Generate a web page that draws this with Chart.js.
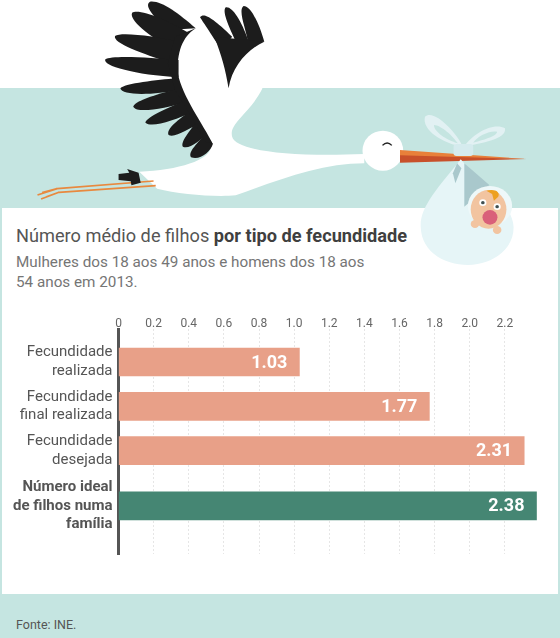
<!DOCTYPE html>
<html lang="pt">
<head>
<meta charset="utf-8">
<title>Número médio de filhos por tipo de fecundidade</title>
<script src="https://cdn.jsdelivr.net/npm/chart.js@4/dist/chart.umd.min.js"></script>
<style>
  html, body { margin: 0; padding: 0; background: #fff; overflow: hidden; }
  #page { position: relative; width: 560px; height: 638px; overflow: hidden; font-family: Roboto, sans-serif; }
  .teal { position: absolute; background: #c5e5e1; }
  #art { position: absolute; left: 0; top: 0; }
  #title { position: absolute; left: 16px; top: 224px; font-size: 18.2px; line-height: 24px; color: #555; white-space: nowrap; }
  #title b { color: #3f3f3f; font-weight: 700; }
  #subtitle { position: absolute; left: 16px; top: 252px; font-size: 15.25px; line-height: 20px; color: #757575; white-space: nowrap; }
  #source { position: absolute; left: 16px; top: 617px; font-size: 12.5px; line-height: 16px; color: #555; }
  #wrap { position: absolute; left: 0; top: 300px; width: 560px; height: 270px; }
</style>
</head>
<body>
<div id="page">
  <div class="teal" style="left:0;top:88px;width:560px;height:120px"></div>
  <div class="teal" style="left:0;top:208px;width:2px;height:386px"></div>
  <div class="teal" style="left:558px;top:208px;width:2px;height:386px"></div>
  <div class="teal" style="left:0;top:594px;width:560px;height:44px"></div>

  <svg id="art" width="560" height="300" viewBox="0 0 560 300">
    <g transform="scale(0.35714,0.33333)">
      <!-- body and neck -->
      <path fill="#fff" d="M500 200 L735 265 C700 340 640 370 650 410 C660 450 800 472 1020 462 L1020 490 C900 490 780 540 660 586 C600 592 500 582 440 566 L390 515 C500 510 590 480 590 440 L500 260 Z"/>
      <ellipse cx="1072" cy="452" rx="57" ry="60" fill="#fff"/>
      <path d="M1071 436 Q1084 422 1097 436" fill="none" stroke="#222" stroke-width="4"/>
      <path fill="#e8803a" d="M1120 450 L1475 477 L1120 470 Z"/>
      <path fill="#c8502a" d="M1120 466 L1475 477 L1120 488 Z"/>
      <!-- left wing -->
      <g fill="#1c1c1c">
        <path d="M548 85 C500 40 450 0 420 5 C405 15 420 40 470 90 Z"/>
        <path d="M530 100 C470 60 390 25 370 38 C360 60 420 110 480 145 Z"/>
        <path d="M500 125 C440 110 340 95 322 108 C315 130 400 160 480 190 Z"/>
        <path d="M500 180 C420 172 310 165 295 178 C285 198 380 225 500 232 Z"/>
        <path d="M495 235 C440 240 350 250 337 265 C340 288 430 285 505 270 Z"/>
        <path d="M505 265 C450 280 380 300 373 320 C385 342 460 325 525 305 Z"/>
        <path d="M520 300 C480 320 410 350 407 368 C425 385 490 360 540 335 Z"/>
        <path d="M535 330 C500 360 465 385 472 405 C490 415 530 385 560 370 Z"/>
        <path d="M550 365 C530 395 505 425 512 440 C530 450 560 420 578 405 Z"/>
        <path d="M575 400 C555 430 525 455 535 472 C560 482 590 455 596 432 Z"/>
      </g>
      <path fill="#1c1c1c" d="M548 85 L490 110 L470 190 L490 270 L530 340 L575 425 L596 432 C570 375 510 290 498 220 C495 160 510 110 548 85 Z"/>
      <!-- right wing -->
      <g fill="#1c1c1c">
        <path d="M620 150 C590 100 565 60 560 52 C570 38 590 48 650 110 Z"/>
        <path d="M665 135 C645 90 620 35 632 22 C650 18 675 60 695 120 Z"/>
        <path d="M695 130 C690 90 665 30 682 18 C705 18 728 80 740 125 Z"/>
      </g>
      <path fill="#1c1c1c" d="M600 110 L740 125 C690 150 650 200 640 265 C632 210 620 165 600 110 Z"/>
      <!-- legs and tail -->
      <path d="M430 543 L160 566 L105 585 M160 566 L118 578" fill="none" stroke="#e8893f" stroke-width="5"/>
      <path d="M436 557 L165 577 L115 597 M165 577 L130 590" fill="none" stroke="#e8893f" stroke-width="5"/>
      <path fill="#1c1c1c" d="M332 522 L362 518 L356 507 L388 518 L394 548 L368 556 L366 544 L332 540 Z"/>
      <!-- bundle -->
      <path fill="#e6f5f7" d="M1290 478 C1230 560 1175 620 1178 680 C1180 760 1250 795 1310 795 C1390 792 1440 740 1438 680 C1435 610 1340 540 1290 478 Z"/>
      <path fill="#e2f1f3" fill-rule="evenodd" d="M1296 440 C1240 430 1180 390 1190 350 C1215 325 1280 400 1296 440 Z M1300 440 C1340 430 1420 420 1414 385 C1380 365 1320 405 1300 440 Z"/>
      <path fill="#c5e5e1" d="M1282 430 C1250 420 1215 395 1215 375 C1235 375 1270 410 1282 430 Z M1325 428 C1350 420 1390 410 1392 395 C1370 390 1335 410 1325 428 Z"/>
      <rect x="1270" y="432" width="55" height="36" rx="8" fill="#d5ebee"/>
      <path fill="#a9c8cc" d="M1300 490 L1370 555 L1300 620 Z"/>
      <path fill="#a9c8cc" d="M1280 490 L1292 505 L1275 550 L1268 520 Z"/>
      <!-- baby -->
      <ellipse cx="1372" cy="618" rx="62" ry="60" fill="#eef8f9"/>
      <ellipse cx="1368" cy="628" rx="50" ry="58" fill="#f2c4a0"/>
      <circle cx="1330" cy="672" r="12" fill="#f2c4a0"/>
      <circle cx="1392" cy="690" r="12" fill="#f2c4a0"/>
      <path fill="#eda020" d="M1362 572 C1385 565 1402 575 1395 590 L1383 602 L1378 582 Z"/>
      <circle cx="1352" cy="608" r="10" fill="#fff"/><circle cx="1352" cy="608" r="5" fill="#3f4f50"/>
      <circle cx="1392" cy="620" r="10" fill="#fff"/><circle cx="1392" cy="620" r="5" fill="#3f4f50"/>
      <ellipse cx="1372" cy="652" rx="21" ry="22" fill="#d9607a"/>
    </g>
  </svg>

  <div id="title">Número médio de filhos <b>por tipo de fecundidade</b></div>
  <div id="subtitle">Mulheres dos 18 aos 49 anos e homens dos 18 aos<br>54 anos em 2013.</div>
  <div id="wrap"><canvas id="chart"></canvas></div>
  <div id="source">Fonte: INE.</div>
</div>

<script>
// chart values
const categories = [
  ["Fecundidade", "realizada"],
  ["Fecundidade", "final realizada"],
  ["Fecundidade", "desejada"],
  ["Número ideal", "de filhos numa", "família"]
];
const values = [1.03, 1.77, 2.31, 2.38];
const tickValues = [0, 0.2, 0.4, 0.6, 0.8, 1.0, 1.2, 1.4, 1.6, 1.8, 2.0, 2.2];

const PEACH = "#e8a088";
const GREEN = "#458673";
const barColors = [PEACH, PEACH, PEACH, GREEN];

// the last row sits a bit lower than the others, so rows are not evenly spread
class RowScale extends Chart.CategoryScale {
  static id = "rows";
  static defaults = Chart.CategoryScale.defaults;
  getPixelForValue(value) {
    const i = typeof value === "number" ? value : this.parse(value);
    const o = this.options;
    return this.top + o.rowStart + i * o.rowStep + (i >= o.gapFrom ? o.gap : 0);
  }
}
Chart.register(RowScale);

// value labels inside the bar ends
const valueLabels = {
  id: "valueLabels",
  afterDatasetsDraw(chart) {
    const { ctx } = chart;
    chart.getDatasetMeta(0).data.forEach((bar, i) => {
      ctx.save();
      ctx.font = "700 18px Roboto";
      ctx.fillStyle = "#fff";
      ctx.textAlign = "right";
      ctx.textBaseline = "middle";
      ctx.fillText(values[i].toFixed(2), bar.x - 12, bar.y + 1);
      ctx.restore();
    });
  }
};

new Chart(document.getElementById("chart"), {
  type: "bar",
  data: {
    labels: categories,
    datasets: [{ data: values, backgroundColor: barColors, barThickness: 28 }]
  },
  plugins: [valueLabels],
  options: {
    indexAxis: "y",
    responsive: true,
    maintainAspectRatio: false,
    animation: false,
    layout: { padding: { bottom: 16, right: 20 } },
    plugins: { legend: { display: false }, tooltip: { enabled: false } },
    scales: {
      x: {
        position: "top",
        min: 0,
        max: 2.4,
        afterBuildTicks: (scale) => { scale.ticks = tickValues.map((v) => ({ value: v })); },
        afterFit: (scale) => { scale.height = 29; scale.paddingLeft = 0; scale.paddingRight = 0; },
        border: { display: false, dash: [2, 2] },
        grid: { color: "#e6e6e6", drawTicks: false, lineWidth: 1 },
        ticks: {
          autoSkip: false,
          maxRotation: 0,
          padding: -2,
          color: "#666",
          font: { family: "Roboto", size: 12 },
          callback: (v) => (v === 0 ? "0" : v.toFixed(1))
        }
      },
      y: {
        type: "rows",
        rowStart: 33,
        rowStep: 44.3,
        gapFrom: 3,
        gap: 11,
        afterFit: (scale) => { scale.width = 118.5; scale.paddingTop = 0; scale.paddingBottom = 0; },
        border: { color: "#555", width: 3 },
        grid: { display: false, drawTicks: false },
        ticks: {
          autoSkip: false,
          padding: 6,
          color: "#555",
          font: (ctx) => ({
            family: "Roboto",
            size: 15,
            lineHeight: 1.25,
            weight: ctx.index === 3 ? "700" : "400"
          })
        }
      }
    }
  }
});
</script>
</body>
</html>
